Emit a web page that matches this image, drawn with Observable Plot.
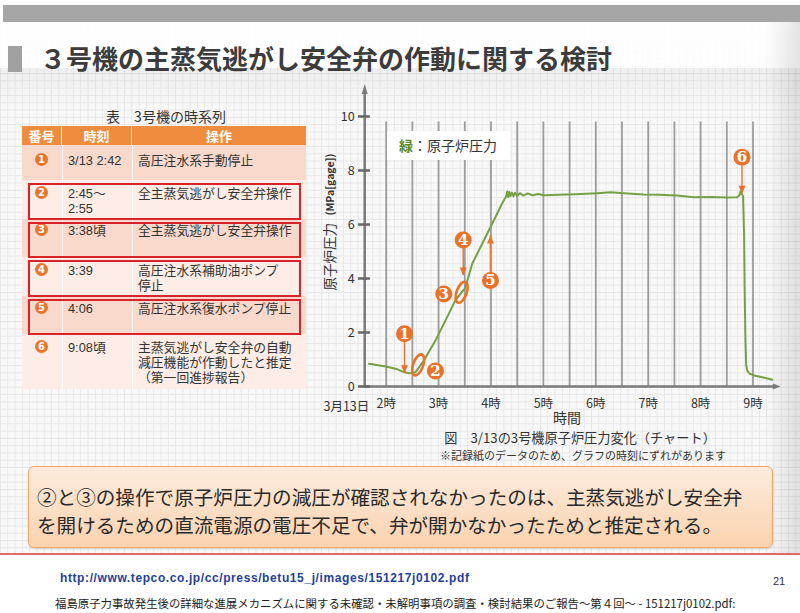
<!DOCTYPE html>
<html><head><meta charset="utf-8">
<script src="https://cdn.jsdelivr.net/npm/d3@7"></script>
<script src="https://cdn.jsdelivr.net/npm/@observablehq/plot@0.6"></script>
<style>
html,body{margin:0;padding:0;}
body{width:800px;height:613px;position:relative;overflow:hidden;background:#fff;font-family:"Noto Sans CJK JP","Noto Sans",sans-serif;color:#333;}
.abs{position:absolute;}
#paper{left:0;top:22px;width:800px;height:533px;background-color:#f8f8f8;
 background-image:linear-gradient(#e7e7e7 1px, transparent 1px), linear-gradient(90deg,#e7e7e7 1px, transparent 1px);
 background-size:7.3px 7.3px;}
#fade{left:0;top:22px;width:800px;height:46px;background:linear-gradient(to bottom, rgba(255,255,255,0.95), rgba(255,255,255,0.8));}
#band{left:0;top:68px;width:800px;height:40px;background:linear-gradient(to bottom, rgba(0,0,0,0.04), rgba(0,0,0,0));}
#rightshade{left:765px;top:22px;width:35px;height:533px;background:linear-gradient(to right, rgba(0,0,0,0), rgba(0,0,0,0.10));}
#topbar{left:3px;top:5px;width:797px;height:17px;background:#a6a6a6;}
#titleblock{left:8px;top:46px;width:14px;height:26px;background:#a0a0a0;}
#title{left:40px;top:40px;font-size:26px;font-weight:700;color:#3c3c3c;white-space:nowrap;line-height:36px;}
#tabtitle{left:96px;top:106px;width:140px;text-align:center;font-size:14px;color:#333;white-space:nowrap;}
.hdr{top:126px;height:19px;background:#ef8c3e;color:#fff;font-weight:700;font-size:13px;line-height:19px;text-align:center;}
.row{left:22px;width:284px;}
.cell{position:absolute;font-family:"Liberation Sans","Noto Sans CJK JP",sans-serif;font-size:12.8px;line-height:15px;height:15px;color:#333;white-space:nowrap;}
.num{position:absolute;left:35px;width:13px;height:13px;border-radius:50%;background:#e8742e;color:#fff;font:bold 10px/13px "DejaVu Sans",sans-serif;text-align:center;}
.redbox{left:28px;width:273px;border:2.5px solid #d8232a;box-sizing:border-box;}
#legend{left:387px;top:131px;width:123px;height:29px;background:#fff;font-size:14px;line-height:29px;padding-left:12px;box-sizing:border-box;white-space:nowrap;color:#333;}
#chart{left:300px;top:70px;}
.cap{white-space:nowrap;text-align:center;color:#333;}
#box{left:28px;top:466px;width:745px;height:82px;border:1px solid #f0a565;border-radius:6px;box-sizing:border-box;
 background:linear-gradient(to bottom,#fdebdc,#fbd3b0);box-shadow:0 1px 2px rgba(0,0,0,0.15);}
#boxtext{left:37px;top:483px;font-size:19.6px;line-height:28px;color:#2a2a2a;white-space:nowrap;}
#redline{left:0;top:553px;width:800px;height:2px;background:#e06a6a;}
#url{left:60px;top:570px;font:bold 12px/16px "Liberation Sans",sans-serif;letter-spacing:0.6px;color:#1f3f9c;white-space:nowrap;}
#page{left:773px;top:573px;font:11px/16px "Liberation Sans",sans-serif;color:#333;}
#foot{left:55px;top:596px;font-size:11.4px;line-height:14px;color:#222;white-space:nowrap;}
</style></head>
<body>
<div id="paper" class="abs"></div>
<div id="fade" class="abs"></div>
<div id="band" class="abs"></div>
<div id="rightshade" class="abs"></div>
<div id="topbar" class="abs"></div>
<div id="titleblock" class="abs"></div>
<div id="title" class="abs"></div>
<div id="tabtitle" class="abs"></div>
<div id="table"></div>
<div id="chart" class="abs"></div>
<div id="legend" class="abs"><span style="color:#5f8a2e;font-weight:700">緑</span>：原子炉圧力</div>
<div id="captions"></div>
<div id="box" class="abs"></div>
<div id="boxtext" class="abs"></div>
<div id="redline" class="abs"></div>
<div id="url" class="abs"></div>
<div id="page" class="abs"></div>
<div id="foot" class="abs"></div>
<script>
// ---------- text ----------
const titleText = "３号機の主蒸気逃がし安全弁の作動に関する検討";
const tableTitle = "表　3号機の時系列";
const headers = ["番号", "時刻", "操作"];
const rowNums = ["1", "2", "3", "4", "5", "6"];
const rowTimes = [["3/13 2:42"], ["2:45～", "2:55"], ["3:38頃"], ["3:39"], ["4:06"], ["9:08頃"]];
const rowOps = [["高圧注水系手動停止"], ["全主蒸気逃がし安全弁操作"], ["全主蒸気逃がし安全弁操作"],
  ["高圧注水系補助油ポンプ", "停止"], ["高圧注水系復水ポンプ停止"],
  ["主蒸気逃がし安全弁の自動", "減圧機能が作動したと推定", "（第一回進捗報告）"]];
const highlighted = [false, true, true, true, true, false];
const boxLines = ["②と③の操作で原子炉圧力の減圧が確認されなかったのは、主蒸気逃がし安全弁",
  "を開けるための直流電源の電圧不足で、弁が開かなかったためと推定される。"];
const xTitle = "時間";
const figCaption = "図　3/13の3号機原子炉圧力変化（チャート）";
const figNote = "※記録紙のデータのため、グラフの時刻にずれがあります";
const yTitleMain = "原子炉圧力";
const yTitleUnit = "(MPa[gage])";
const dateLabel = "3月13日";
const urlText = "http://www.tepco.co.jp/cc/press/betu15_j/images/151217j0102.pdf";
const pageNum = "21";
const footText = "福島原子力事故発生後の詳細な進展メカニズムに関する未確認・未解明事項の調査・検討結果のご報告～第４回～ - 151217j0102.pdf:";

// ---------- chart data (hours on 3/13, MPa[gage]) ----------
const hours = [1.67, 1.99, 2.18, 2.34, 2.46, 2.56, 2.72, 2.94, 3.13, 3.32, 3.44, 3.50, 3.55, 3.64, 3.83, 4.02, 4.21, 4.29,
  4.31, 4.33, 4.35, 4.37, 4.40, 4.43, 4.46, 4.50, 4.55, 4.62, 4.70, 4.80, 4.90, 5.01, 5.30, 5.60, 6.03, 6.28, 6.60, 6.92,
  7.20, 7.55, 7.87, 8.20, 8.51, 8.70, 8.74, 8.76, 8.79, 8.81, 8.83, 8.84, 8.857, 8.87, 8.89, 8.93, 9.02, 9.20, 9.37];
const pressure = [0.84, 0.74, 0.66, 0.53, 0.49, 0.53, 0.96, 1.70, 2.44, 3.19, 3.49, 3.62, 3.93, 4.54, 5.28, 6.02, 6.77, 7.05,
  7.22, 7.02, 7.20, 7.05, 7.18, 7.04, 7.17, 7.06, 7.16, 7.07, 7.15, 7.08, 7.13, 7.08, 7.10, 7.12, 7.16, 7.19, 7.15, 7.11,
  7.10, 7.07, 7.01, 7.02, 7.00, 7.01, 7.08, 7.22, 7.12, 7.05, 5.60, 3.68, 1.60, 0.80, 0.59, 0.48, 0.41, 0.33, 0.25];
const gridHours = [2, 2.5, 3, 3.5, 4, 4.5, 5, 5.5, 6, 6.5, 7, 7.5, 8, 8.5, 9];
const tickHours = [2, 3, 4, 5, 6, 7, 8, 9];
const yTicks = [0, 2, 4, 6, 8, 10];
const xDomain = [1.59, 9.5];
const yDomain = [0, 10];
const gridTop = 9.8;
const yAxisTop = 11.2;
const xAxisEnd = 9.53;
// annotations
const markerNums = ["1", "2", "3", "4", "5", "6"];
const markerHour = [2.35, 2.94, 3.10, 3.47, 3.99, 8.79];
const markerP = [1.95, 0.57, 3.43, 5.43, 3.93, 8.49];
const arrowHour = [2.35, 3.47, 3.99, 8.79];
const arrowFrom = [1.64, 5.12, 3.62, 8.18];
const arrowTo = [0.49, 4.11, 5.59, 7.14];
const ovalHour = [2.61, 3.44];
const ovalP = [0.80, 3.49];

// ---------- static html ----------
const $ = id => document.getElementById(id);
$("title").textContent = titleText;
$("tabtitle").textContent = tableTitle;
$("url").textContent = urlText;
$("page").textContent = pageNum;
$("foot").textContent = footText;
$("boxtext").innerHTML = boxLines.map(s => `<div>${s}</div>`).join("");

// table
const colX = [22, 62, 132, 306];
let html = "";
headers.forEach((h, i) => {
  html += `<div class="abs hdr" style="left:${colX[i]}px;width:${colX[i + 1] - colX[i] - (i < 2 ? 1 : 0)}px">${h}</div>`;
});
const rowTop = [145, 180, 219, 257, 296, 334, 389];
const textTop = [153, 186, 223, 263, 301, 340];
const rowFill = ["#f9d9cb", "#fdede6", "#f9d9cb", "#fdede6", "#f9d9cb", "#fdede6"];
rowNums.forEach((n, i) => {
  html += `<div class="abs row" style="top:${rowTop[i]}px;height:${rowTop[i + 1] - rowTop[i]}px;background:${rowFill[i]}"></div>`;
  html += `<div class="num" style="top:${textTop[i]}px">${n}</div>`;
  rowTimes[i].forEach((t, j) => { html += `<div class="cell" style="left:68px;top:${textTop[i] + 15 * j}px">${t}</div>`; });
  rowOps[i].forEach((t, j) => { html += `<div class="cell" style="left:138px;top:${textTop[i] + 15 * j}px">${t}</div>`; });
});
["62", "132"].forEach(x => { html += `<div class="abs" style="left:${x}px;top:145px;width:1px;height:244px;background:rgba(255,255,255,0.8)"></div>`; });
highlighted.forEach((h, i) => {
  if (h) html += `<div class="abs redbox" style="top:${rowTop[i] + 3}px;height:${rowTop[i + 1] - rowTop[i] - 2}px"></div>`;
});
$("table").innerHTML = html;

// captions
$("captions").innerHTML =
  `<div class="abs cap" style="left:517px;top:407px;width:100px;font-size:14px;line-height:20px">${xTitle}</div>` +
  `<div class="abs cap" style="left:430px;top:428px;width:300px;font-size:13.2px;line-height:20px">${figCaption}</div>` +
  `<div class="abs cap" style="left:433px;top:447px;width:300px;font-size:11px;line-height:16px">${figNote}</div>`;

// ---------- chart ----------
function triSymbol(dir, w, l) {
  return {draw(ctx) {
    if (dir === "down") { ctx.moveTo(-w / 2, -l); ctx.lineTo(w / 2, -l); ctx.lineTo(0, 0); }
    else if (dir === "up") { ctx.moveTo(-w / 2, l); ctx.lineTo(w / 2, l); ctx.lineTo(0, 0); }
    else { ctx.moveTo(-l, -w / 2); ctx.lineTo(-l, w / 2); ctx.lineTo(0, 0); }
    ctx.closePath();
  }};
}
function ellipseSymbol(a, b, deg) {
  const t = deg * Math.PI / 180, c = Math.cos(t), s = Math.sin(t), k = 0.5523;
  const P = ([x, y]) => [x * c - y * s, x * s + y * c];
  const pts = [[a, 0], [a, k * b], [k * a, b], [0, b], [-k * a, b], [-a, k * b], [-a, 0], [-a, -k * b], [-k * a, -b], [0, -b], [k * a, -b], [a, -k * b], [a, 0]].map(P);
  return {draw(ctx) {
    ctx.moveTo(pts[0][0], pts[0][1]);
    for (let i = 1; i < pts.length; i += 3) ctx.bezierCurveTo(pts[i][0], pts[i][1], pts[i + 1][0], pts[i + 1][1], pts[i + 2][0], pts[i + 2][1]);
    ctx.closePath();
  }};
}

const series = hours.map((h, i) => ({h, p: pressure[i]}));
const markers = markerNums.map((n, i) => ({n, h: markerHour[i], p: markerP[i]}));
const arrows = arrowHour.map((h, i) => ({h, p1: arrowFrom[i], p2: arrowTo[i]}));
const ovals = ovalHour.map((h, i) => ({h, p: ovalP[i]}));
const orange = "#e8722b";
const axisCol = "#7a7a7a";

const chart = Plot.plot({
  width: 490, height: 360,
  marginLeft: 64.2, marginRight: 11.3, marginTop: 46, marginBottom: 44,
  x: {domain: xDomain},
  y: {domain: yDomain},
  style: {background: "transparent", overflow: "visible", fontFamily: "'Noto Sans CJK JP', sans-serif", color: "#333"},
  marks: [
    Plot.ruleX(gridHours, {y1: 0, y2: gridTop, stroke: "#9c9c9c", strokeWidth: 1.8}),
    Plot.ruleX([xDomain[0]], {y1: 0, y2: yAxisTop - 0.3, stroke: axisCol, strokeWidth: 2.5}),
    Plot.dot([xDomain[0]], {x: d => d, y: yAxisTop, symbol: triSymbol("up", 6, 10), fill: axisCol, stroke: null}),
    Plot.ruleY([0], {x1: xDomain[0], x2: xAxisEnd - 0.1, stroke: axisCol, strokeWidth: 2.5}),
    Plot.dot([0], {x: xAxisEnd, y: d => d, symbol: triSymbol("right", 6, 8), fill: axisCol, stroke: null}),
    Plot.ruleY(yTicks, {x1: xDomain[0] - 0.12, x2: xDomain[0] + 0.11, stroke: "#666", strokeWidth: 2.5}),
    Plot.axisY({ticks: yTicks, tickSize: 0, tickPadding: 10, fontSize: 12.5, label: null}),
    Plot.axisX({ticks: tickHours, tickFormat: d => d + "時", tickSize: 0, tickPadding: 13, fontSize: 12.5, label: null}),
    Plot.text([dateLabel], {x: 1.24, y: 0, dy: 20, text: d => d, fontSize: 12.5, fill: "#333"}),
    Plot.text([yTitleMain], {x: 0.94, y: 4.81, text: d => d, rotate: -90, fontSize: 13.5, fill: "#333"}),
    Plot.text([yTitleUnit], {x: 0.94, y: 7.48, text: d => d, rotate: -90, fontSize: 10.5, fontWeight: "bold", fill: "#333"}),
    Plot.line(series, {x: "h", y: "p", stroke: "#76a046", strokeWidth: 2, curve: "linear"}),
    Plot.ruleX(arrows, {x: "h", y1: "p1", y2: "p2", stroke: orange, strokeWidth: 1.4}),
    Plot.dot(arrows.filter(d => d.p2 < d.p1), {x: "h", y: "p2", symbol: triSymbol("down", 7, 8), fill: orange, stroke: null}),
    Plot.dot(arrows.filter(d => d.p2 > d.p1), {x: "h", y: "p2", symbol: triSymbol("up", 7, 8), fill: orange, stroke: null}),
    Plot.dot(ovals, {x: "h", y: "p", symbol: ellipseSymbol(5, 11, 20), fill: "none", stroke: orange, strokeWidth: 2.6}),
    Plot.dot(markers, {x: "h", y: "p", r: 8.5, fill: orange, stroke: null}),
    Plot.text(markers, {x: "h", y: "p", text: "n", fill: "white", fontSize: 15, fontWeight: "bold", fontFamily: "'DejaVu Serif', serif"})
  ]
});
$("chart").appendChild(chart);
</script>
</body></html>
